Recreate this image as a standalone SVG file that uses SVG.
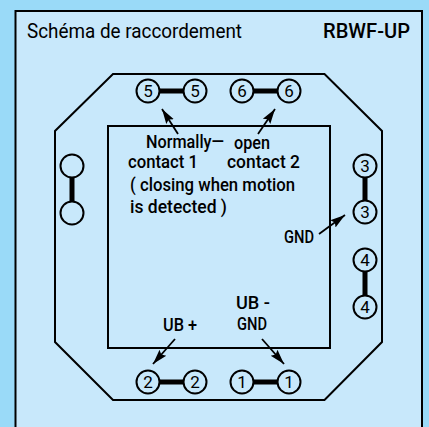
<svg xmlns="http://www.w3.org/2000/svg" width="429" height="427" viewBox="0 0 429 427">
<style>
.o{fill:none;stroke:#000;stroke-width:2}
.c{fill:#c8e8fb;stroke:#000;stroke-width:2}
.b{stroke:#000;stroke-width:5;fill:none}
.a{stroke:#000;stroke-width:1.800;fill:none;marker-end:url(#ah)}
text{font-family:"Roboto","Liberation Sans",sans-serif;fill:#000;font-size:17.500px;font-weight:500}
.n{font-size:17px;text-anchor:middle;font-weight:400}
</style>
<defs><marker id="ah" markerUnits="userSpaceOnUse" markerWidth="16" markerHeight="12" refX="15" refY="6" orient="auto"><path d="M0 1.500L15 6L0 10.500L2.500 6Z" fill="#000"/></marker></defs>
<rect width="429" height="427" fill="#9adaf8"/>
<path id="frame" d="M15.500 427V11H422V427" fill="#c8e8fb" stroke="#000" stroke-width="2"/>
<g id="housing"><path class="o" d="M113 74H324.500L382 131V342L324.500 400H113L55 342V131Z"/><rect class="o" x="108" y="126" width="222" height="222"/></g>
<text id="title" x="27" y="37.500" textLength="215" lengthAdjust="spacingAndGlyphs" style="font-size:21px;font-weight:400">Schéma de raccordement</text>
<text id="model" x="323" y="37.500" textLength="87" lengthAdjust="spacingAndGlyphs" style="font-size:19.500px;font-weight:500">RBWF-UP</text>
<g id="connectors">
<path class="b" d="M148 91H195M242 91H289M148 382H195M242 382H289M72 166V213M365 166V212M365 260V307"/>
<path class="a" d="M178 134L162 109"/><path class="a" d="M258 134L275 109"/><path class="a" d="M319 234L345 215"/><path class="a" d="M262 339L284 364"/><path class="a" d="M175 339L153 364"/>
</g>
<g id="t5a"><circle class="c" cx="148" cy="91" r="11.500"/><text class="n" x="148" y="97">5</text></g>
<g id="t5b"><circle class="c" cx="195" cy="91" r="11.500"/><text class="n" x="195" y="97">5</text></g>
<g id="t6a"><circle class="c" cx="242" cy="91" r="11.500"/><text class="n" x="242" y="97">6</text></g>
<g id="t6b"><circle class="c" cx="289" cy="91" r="11.500"/><text class="n" x="289" y="97">6</text></g>
<g id="t2a"><circle class="c" cx="148" cy="382" r="11.500"/><text class="n" x="148" y="388">2</text></g>
<g id="t2b"><circle class="c" cx="195" cy="382" r="11.500"/><text class="n" x="195" y="388">2</text></g>
<g id="t1a"><circle class="c" cx="242" cy="382" r="11.500"/><text class="n" x="242" y="388">1</text></g>
<g id="t1b"><circle class="c" cx="289" cy="382" r="11.500"/><text class="n" x="289" y="388">1</text></g>
<g id="t3a"><circle class="c" cx="365" cy="166" r="11.500"/><text class="n" x="365" y="172">3</text></g>
<g id="t3b"><circle class="c" cx="365" cy="212" r="11.500"/><text class="n" x="365" y="218">3</text></g>
<g id="t4a"><circle class="c" cx="365" cy="260" r="11.500"/><text class="n" x="365" y="266">4</text></g>
<g id="t4b"><circle class="c" cx="365" cy="307" r="11.500"/><text class="n" x="365" y="313">4</text></g>
<g id="tla"><circle class="c" cx="72" cy="166" r="11.500"/></g>
<g id="tlb"><circle class="c" cx="72" cy="213" r="11.500"/></g>
<g id="labels">
<text x="146" y="148" textLength="78" lengthAdjust="spacingAndGlyphs">Normally—</text>
<text x="234" y="149" textLength="36" lengthAdjust="spacingAndGlyphs">open</text>
<text x="128" y="168" textLength="70" lengthAdjust="spacingAndGlyphs">contact 1</text>
<text x="227" y="168" textLength="73" lengthAdjust="spacingAndGlyphs">contact 2</text>
<text x="130" y="191" textLength="165" lengthAdjust="spacingAndGlyphs">( closing when motion</text>
<text x="130" y="213" textLength="97" lengthAdjust="spacingAndGlyphs">is detected )</text>
<text x="284" y="243" textLength="30" lengthAdjust="spacingAndGlyphs">GND</text>
<text x="236" y="309" textLength="34" lengthAdjust="spacingAndGlyphs">UB -</text>
<text x="237" y="330" textLength="30" lengthAdjust="spacingAndGlyphs">GND</text>
<text x="163" y="331" textLength="34" lengthAdjust="spacingAndGlyphs">UB +</text>
</g>
</svg>
